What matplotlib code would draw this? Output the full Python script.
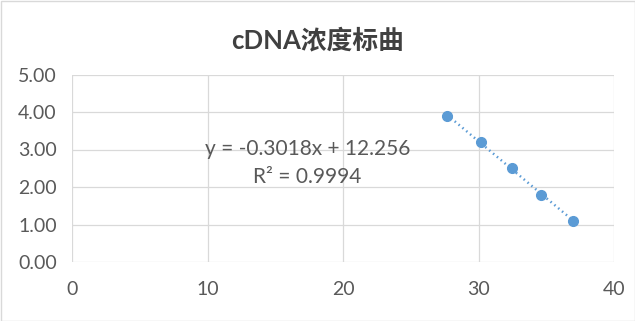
import matplotlib
matplotlib.use("Agg")
import matplotlib.pyplot as plt
import numpy as np
from matplotlib.patches import Rectangle

# data
ct_values = [27.68, 30.16, 32.45, 34.61, 37.0]
log_conc = [3.9, 3.2, 2.5, 1.8, 1.1]
x_ticks = [0, 10, 20, 30, 40]
y_ticks = [0, 1, 2, 3, 4, 5]
title = "cDNA浓度标曲"
eq_text = "y = -0.3018x + 12.256"
r2_text = "R² = 0.9994"

plt.rcParams['font.family'] = ['Lato', 'Noto Sans CJK SC', 'DejaVu Sans']

blue = "#5B9BD5"
grid_c = "#D9D9D9"
text_c = "#595959"

fig = plt.figure(figsize=(6.35, 3.21), dpi=100)
ax = fig.add_axes([72/635, 1-262/321, (614-72)/635, (262-74.5)/321])

x = np.array(ct_values)
y = np.array(log_conc)
k, b = np.polyfit(x, y, 1)
xs = np.array([x.min(), x.max()])
ax.plot(xs, k*xs + b, color=blue, lw=1.8, ls=(0, (0.6, 1.4)), zorder=2)
ax.plot(x, y, 'o', color=blue, markersize=7, zorder=3)

ax.set_xlim(0, 40)
ax.set_ylim(0, 5)
ax.set_xticks(x_ticks)
ax.set_yticks(y_ticks)
ax.set_yticklabels(["{:.2f}".format(v) for v in y_ticks])
ax.grid(True, color=grid_c, lw=0.9)
ax.set_axisbelow(True)
for s in ax.spines.values():
    s.set_visible(False)
ax.tick_params(length=0, labelsize=14, colors=text_c)
ax.tick_params(axis='x', pad=14)
ax.tick_params(axis='y', pad=11)

fig.text(308/635, 1-149/321, eq_text, ha='center', va='center', fontsize=15, color=text_c)
fig.text(307/635, 1-177/321, r2_text, ha='center', va='center', fontsize=15, color=text_c)

fig.text(318/635, 1-40/321, title, ha='center', va='center', fontsize=18.5,
         fontweight='bold', color="#404040")

fig.patches.append(Rectangle((0.5/635, 0.5/321), 1-1/635, 1-1/321, transform=fig.transFigure,
                             fill=False, edgecolor=grid_c, lw=1))

fig.savefig("out.png", dpi=100)
